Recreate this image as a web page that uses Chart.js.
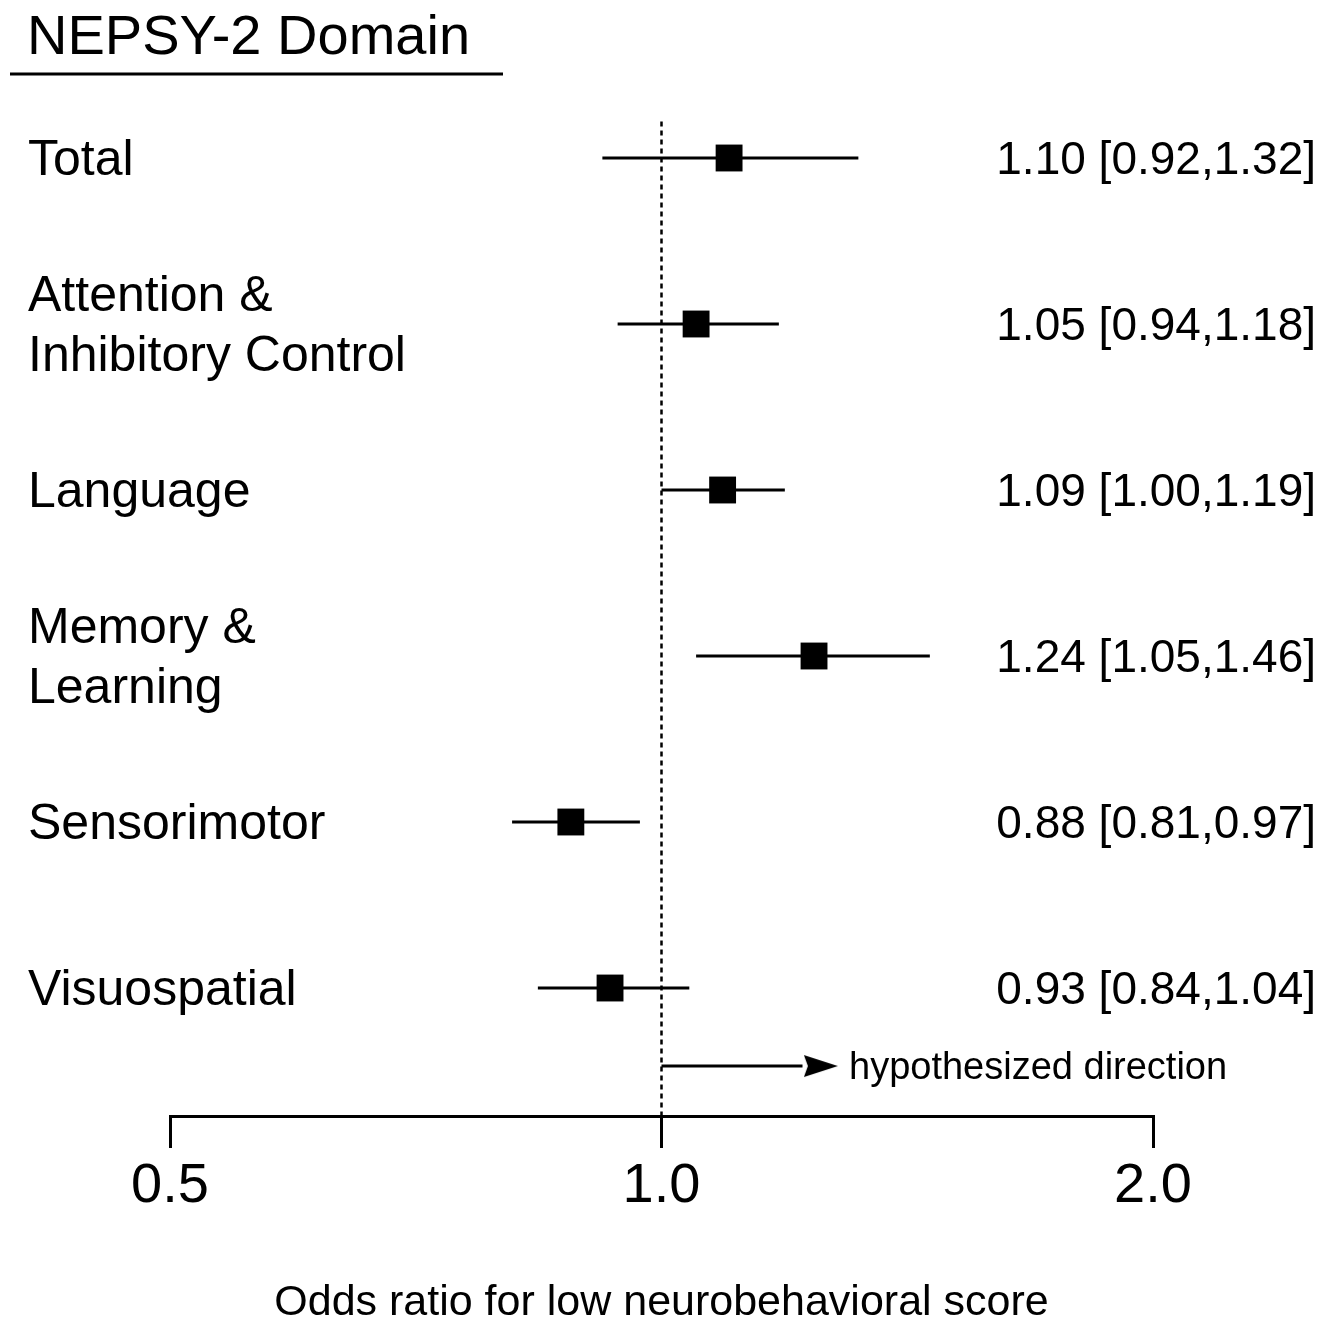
<!DOCTYPE html>
<html>
<head>
<meta charset="utf-8">
<script src="https://cdn.jsdelivr.net/npm/chart.js@4/dist/chart.umd.min.js"></script>
<style>
  body { margin: 0; background: #fff; }
  canvas { display: block; }
</style>
</head>
<body>
<canvas id="forestChart" width="1336" height="1321"></canvas>
<script>
// NEPSY-2 forest plot
const domains = ["Total", ["Attention &", "Inhibitory Control"], "Language", ["Memory &", "Learning"], "Sensorimotor", "Visuospatial"];
const oddsRatio = [1.10, 1.05, 1.09, 1.24, 0.88, 0.93];
const ciLow = [0.92, 0.94, 1.00, 1.05, 0.81, 0.84];
const ciHigh = [1.32, 1.18, 1.19, 1.46, 0.97, 1.04];
const xTicks = [0.5, 1.0, 2.0];

const FONT = "'Liberation Sans', Arial, sans-serif";

// arrow head image for "hypothesized direction"
const arrowImg = document.createElement("canvas");
arrowImg.width = 34;
arrowImg.height = 24;
const actx = arrowImg.getContext("2d");
actx.fillStyle = "#000";
actx.beginPath();
actx.moveTo(0, 1);
actx.lineTo(34, 12);
actx.lineTo(0, 23);
actx.lineTo(4, 12);
actx.closePath();
actx.fill();

const ciSets = domains.map((d, i) => ({
  type: "line",
  data: [{ x: ciLow[i], y: i }, { x: ciHigh[i], y: i }],
  borderColor: "#000",
  borderWidth: 3,
  pointRadius: 0,
}));

const textPlugin = {
  id: "forestText",
  afterDraw(chart) {
    const ctx = chart.ctx;
    const yS = chart.scales.y;
    ctx.save();
    ctx.fillStyle = "#000";
    ctx.textBaseline = "middle";

    // header
    ctx.font = "56px " + FONT;
    ctx.textAlign = "left";
    ctx.fillText("NEPSY-2 Domain", 27, 39);
    ctx.strokeStyle = "#000";
    ctx.lineWidth = 3;
    ctx.beginPath();
    ctx.moveTo(10, 74);
    ctx.lineTo(503, 74);
    ctx.stroke();

    domains.forEach((d, i) => {
      const y = yS.getPixelForValue(i) + 3;
      ctx.font = "50px " + FONT;
      ctx.textAlign = "left";
      const lines = Array.isArray(d) ? d : [d];
      lines.forEach((t, k) => {
        ctx.fillText(t, 28, y + (k - (lines.length - 1) / 2) * 60);
      });
      ctx.font = "46px " + FONT;
      ctx.textAlign = "right";
      const s = oddsRatio[i].toFixed(2) + " [" + ciLow[i].toFixed(2) + "," + ciHigh[i].toFixed(2) + "]";
      ctx.fillText(s, 1316, y);
    });

    ctx.font = "38px " + FONT;
    ctx.textAlign = "left";
    ctx.fillText("hypothesized direction", 849, yS.getPixelForValue(5.47) + 2);
    ctx.restore();
  },
};

new Chart(document.getElementById("forestChart").getContext("2d"), {
  type: "scatter",
  data: {
    datasets: [
      ...ciSets,
      {
        type: "scatter",
        data: oddsRatio.map((v, i) => ({ x: v, y: i })),
        pointStyle: "rect",
        pointRadius: 19,
        backgroundColor: "#000",
        borderColor: "#000",
        borderWidth: 0,
      },
      {
        // null line
        type: "line",
        data: [{ x: 1, y: -0.22 }, { x: 1, y: 5.771 }],
        borderColor: "#000",
        borderWidth: 2.5,
        borderDash: [5, 4],
        pointRadius: 0,
      },
      {
        // hypothesized direction arrow
        type: "line",
        data: [{ x: 1, y: 5.47 }, { x: 1.22, y: 5.47 }],
        borderColor: "#000",
        borderWidth: 3,
        pointRadius: 0,
      },
      {
        type: "scatter",
        data: [{ x: 1.252, y: 5.47 }],
        pointStyle: arrowImg,
      },
    ],
  },
  options: {
    responsive: false,
    animation: false,
    layout: { padding: { left: 170, right: 183, top: 75, bottom: 0 } },
    plugins: {
      legend: { display: false },
      tooltip: { enabled: false },
    },
    scales: {
      x: {
        type: "logarithmic",
        position: "bottom",
        min: 0.5,
        max: 2.0,
        afterBuildTicks: (scale) => {
          scale.ticks = xTicks.map((v) => ({ value: v }));
        },
        afterFit: (scale) => {
          scale.height = 205;
        },
        ticks: {
          autoSkip: false,
          maxRotation: 0,
          padding: 5,
          color: "#000",
          font: { family: FONT, size: 56 },
          callback: (v) => Number(v).toFixed(1),
        },
        grid: {
          drawOnChartArea: false,
          drawTicks: true,
          tickLength: 32,
          color: "#000",
          lineWidth: 3,
        },
        border: { display: true, color: "#000", width: 3 },
        title: {
          display: true,
          text: "Odds ratio for low neurobehavioral score",
          color: "#000",
          font: { family: FONT, size: 43, lineHeight: 1.0 },
          padding: { top: 0, bottom: -4 },
        },
      },
      y: {
        type: "linear",
        display: false,
        reverse: true,
        min: -0.5,
        max: 5.771,
      },
    },
  },
  plugins: [textPlugin],
});
</script>
</body>
</html>
